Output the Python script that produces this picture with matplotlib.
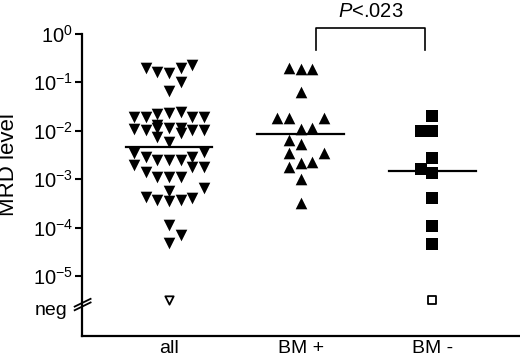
import matplotlib
matplotlib.use('Agg')
import matplotlib.pyplot as plt
import numpy as np
from matplotlib.ticker import NullLocator, FixedLocator

plt.rcParams['font.family'] = ['Liberation Sans', 'DejaVu Sans']
plt.rcParams['mathtext.fontset'] = 'custom'
plt.rcParams['mathtext.rm'] = 'Liberation Sans'
plt.rcParams['mathtext.it'] = 'Liberation Sans:italic'
plt.rcParams['mathtext.default'] = 'regular'

categories = ['all', 'BM +', 'BM -']

# MRD levels, with horizontal slot in the dot column
all_vals = [0.194, 0.166, 0.158, 0.194, 0.228, 0.103, 0.0671,
            0.0196, 0.0196, 0.0219, 0.0229, 0.0248, 0.0196, 0.0196, 0.0132,
            0.0107, 0.0104, 0.0112, 0.0112, 0.0112, 0.0104, 0.0104,
            0.00733, 0.00885, 0.00597,
            0.00354, 0.00293, 0.0025, 0.0025, 0.0025, 0.00293, 0.00372,
            0.00197, 0.00144, 0.00113, 0.00113, 0.00113, 0.00182, 0.00182,
            0.000439, 0.000374, 0.000362, 0.000374, 0.000406, 0.000574, 0.000652,
            0.000114, 7.11e-5, 4.94e-5]
all_slot = [-2, -1, 0, 1, 2, 1, 0,
            -3, -2, -1, 0, 1, 2, 3, -1,
            -3, -2, -1, 0, 1, 2, 3,
            -1, 1, 0,
            -3, -2, -1, 0, 1, 2, 3,
            -3, -2, -1, 0, 1, 2, 3,
            -2, -1, 0, 1, 2, 0, 3,
            0, 1, 0]

bmpos_vals = [0.195, 0.185, 0.185, 0.064,
              0.0181, 0.0181, 0.0181, 0.0107, 0.0113,
              0.00646, 0.00535, 0.00344, 0.00353,
              0.00177, 0.0022, 0.00224, 0.001, 0.00033]
bmpos_slot = [-1, 0, 1, 0,
              -2, -1, 2, 0, 1,
              -1, 0, -1, 2,
              -1, 0, 1, 0, 0]

bmneg_vals = [0.0205, 0.0099, 0.0099, 0.00279, 0.00161, 0.00137,
              0.000418, 0.000109, 4.63e-5]
bmneg_slot = [0, -1, 0, 0, -1, 0, 0, 0, 0]

medians = [0.00456, 0.0086, 0.00148]
neg_counts = [1, 0, 1]  # MRD negative patients (open symbols)
p_text = '$\\mathit{P}$<.023'

NEG_Y = 10 ** -5.48
SLOT_W = 0.089

fig = plt.figure(figsize=(5.2, 3.55), dpi=100)
ax = fig.add_axes([0.157, 0.0544, 0.843, 0.8504])

ax.scatter(0 + np.array(all_slot) * SLOT_W, all_vals, marker='v', s=70,
           color='black', linewidths=0)
ax.scatter(1 + np.array(bmpos_slot) * SLOT_W, bmpos_vals, marker='^', s=70,
           color='black', linewidths=0)
ax.scatter(2 + np.array(bmneg_slot) * SLOT_W, bmneg_vals, marker='s', s=68,
           color='black', linewidths=0)

neg_marks = ['v', '^', 's']
for i, n in enumerate(neg_counts):
    if n:
        ax.scatter([i] * n, [NEG_Y] * n, marker=neg_marks[i], s=36,
                   facecolor='white', edgecolor='black', linewidths=1.3)

for i, m in enumerate(medians):
    ax.plot([i - 0.33, i + 0.33], [m, m], color='black', lw=1.6)

ax.set_yscale('log')
ax.set_ylim(10 ** -6.225, 1)
ax.set_xlim(-0.664, 2.667)
ax.yaxis.set_major_locator(FixedLocator([10.0 ** -k for k in range(6)]))
ax.yaxis.set_minor_locator(NullLocator())
ax.set_xticks(range(3))
ax.set_xticklabels(categories)
ax.tick_params(axis='x', length=0, pad=3, labelsize=14)
ax.tick_params(axis='y', length=5, width=1.5, pad=1, labelsize=14.5)
for side in ['top', 'right']:
    ax.spines[side].set_visible(False)
for side in ['left', 'bottom']:
    ax.spines[side].set_linewidth(1.6)

# "neg" label and axis break
ax.text(-0.775, 10 ** -5.70, 'neg', ha='right', va='center', fontsize=14)
for dy in [0.0, 0.075]:
    ax.plot([-0.717, -0.596], [10 ** (-5.70 + dy), 10 ** (-5.54 + dy)],
            color='black', lw=1.3, clip_on=False)

# significance bracket
ax.plot([1.116, 1.116, 1.944, 1.944], [10 ** -0.334, 10 ** 0.11, 10 ** 0.11, 10 ** -0.334],
        color='black', lw=1.2, clip_on=False)
ax.text(1.53, 10 ** 0.47, p_text, ha='center', va='center', fontsize=14.5)

fig.text(0.017, 1 - 165 / 355, 'MRD level', rotation=90, ha='center', va='center',
         fontsize=16)

fig.savefig('out.png', dpi=100)
